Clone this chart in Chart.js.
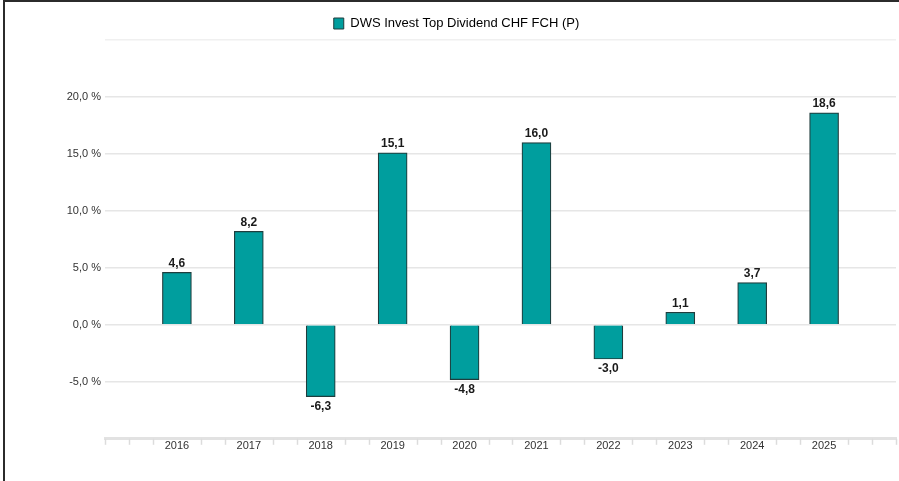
<!DOCTYPE html>
<html>
<head>
<meta charset="utf-8">
<script src="https://cdn.jsdelivr.net/npm/chart.js@4.4.1/dist/chart.umd.min.js"></script>
<style>
  html, body { margin: 0; padding: 0; background: #fff; }
  #frame { position: absolute; left: 3px; top: 0px; width: 896px; height: 481px; border-left: 2px solid #2b2b2b; border-top: 2px solid #2b2b2b; box-sizing: border-box; }
  #wrap { position: absolute; left: 0; top: 0; width: 894px; height: 479px; }
</style>
</head>
<body>
<div id="frame"><div id="wrap"><canvas id="c"></canvas></div></div>
<script>
const seriesName = 'DWS Invest Top Dividend CHF FCH (P)';
const categories = ['', '2016', '2017', '2018', '2019', '2020', '2021', '2022', '2023', '2024', '2025', ''];
const values = [null, 4.6, 8.2, -6.3, 15.1, -4.8, 16.0, -3.0, 1.1, 3.7, 18.6, null];
const yMin = -10, yMax = 25, yStep = 5;

const fmt = v => v.toFixed(1).replace('.', ',');

const extras = {
  id: 'extras',
  afterDatasetsDraw(chart) {
    const ctx = chart.ctx;
    const meta = chart.getDatasetMeta(0);
    ctx.save();
    ctx.font = 'bold 12px "Liberation Sans", Arial, sans-serif';
    ctx.fillStyle = '#1a1a1a';
    ctx.textAlign = 'center';
    meta.data.forEach((el, i) => {
      const v = values[i];
      if (v === null || v === undefined) return;
      if (v >= 0) {
        ctx.textBaseline = 'bottom';
        ctx.fillText(fmt(v), el.x, el.y - 3);
      } else {
        ctx.textBaseline = 'top';
        ctx.fillText(fmt(v), el.x, el.y + 4);
      }
    });
    // minor ticks on x axis
    const xs = chart.scales.x;
    const ys = chart.scales.y;
    const yb = ys.getPixelForValue(yMin);
    ctx.strokeStyle = '#dcdcdc';
    ctx.lineWidth = 1.5;
    const n = categories.length;
    for (let k = 0; k <= (n - 1) * 3; k++) {
      const p = k / 3;
      if (k % 3 === 0 && categories[k / 3] !== '') continue;
      const x = Math.round(xs.getPixelForValue(p)) + 0.5;
      ctx.beginPath();
      ctx.moveTo(x, yb);
      ctx.lineTo(x, yb + 6);
      ctx.stroke();
    }
    ctx.restore();
  }
};

new Chart(document.getElementById('c'), {
  type: 'bar',
  data: {
    labels: categories,
    datasets: [{
      label: seriesName,
      data: values,
      backgroundColor: '#009e9e',
      borderColor: '#1f3d3d',
      borderWidth: 1.2,
      barThickness: 29
    }]
  },
  options: {
    responsive: true,
    maintainAspectRatio: false,
    animation: false,
    layout: { padding: { left: 12, right: 3, top: 8, bottom: 27 } },
    plugins: {
      legend: {
        position: 'top',
        labels: {
          boxWidth: 10, boxHeight: 11,
          color: '#222',
          font: { family: '"Liberation Sans", Arial, sans-serif', size: 13 },
          padding: 7,
          generateLabels(chart) {
            return [{ text: seriesName, fillStyle: '#009e9e', strokeStyle: '#1f3d3d', lineWidth: 1, datasetIndex: 0 }];
          }
        }
      },
      tooltip: { enabled: false }
    },
    scales: {
      x: {
        offset: false,
        grid: { display: false, drawTicks: false },
        border: { display: true, color: '#e2e2e2', width: 3 },
        ticks: {
          color: '#333',
          font: { family: '"Liberation Sans", Arial, sans-serif', size: 11 },
          padding: 1,
          autoSkip: false,
          maxRotation: 0
        }
      },
      y: {
        min: yMin, max: yMax,
        afterFit(s) { s.width = 88; },
        grid: {
          color: ctx => (ctx.tick && ctx.tick.value === yMax) ? '#f0f0f0' : '#e6e6e6',
          lineWidth: 1.5,
          drawTicks: false
        },
        border: { display: false },
        ticks: {
          stepSize: yStep,
          color: '#333',
          padding: 4,
          font: { family: '"Liberation Sans", Arial, sans-serif', size: 11 },
          callback: v => (v === yMin || v === yMax) ? '' : fmt(v) + ' %'
        }
      }
    }
  },
  plugins: [extras]
});
</script>
</body>
</html>
